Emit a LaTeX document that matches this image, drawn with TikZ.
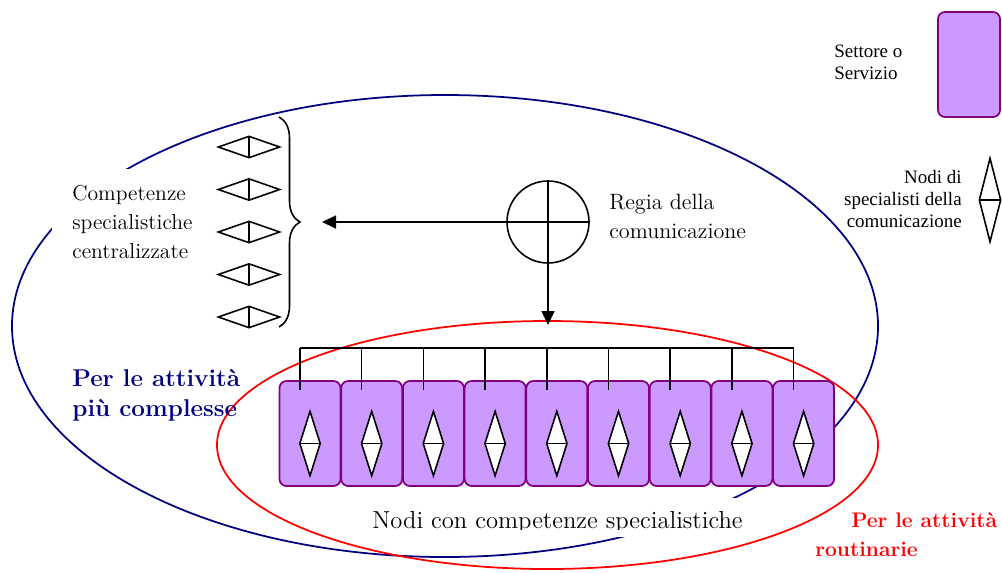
\documentclass[tikz,border=0pt]{standalone}
\usepackage{fontspec}
\newfontfamily\timesfont{Liberation Serif}
\usepackage{xcolor}
\usepackage{tikz}
\usetikzlibrary{arrows.meta}
\usetikzlibrary{shapes.geometric}
\usetikzlibrary{decorations.pathreplacing}
\definecolor{lilla}{HTML}{CC99FF}
\definecolor{viola}{HTML}{800080}
\definecolor{blu}{HTML}{000080}
\tikzset{
    freccia/.style={
        line width=0.9pt,
        -{Triangle[length=2.8mm, width=2.6mm]},
    },
    settore/.style={
        draw=viola,
        fill=lilla,
        line width=1pt,
        rounded corners=1.4mm,
        minimum width=12.2mm,
        minimum height=21mm,
        inner sep=0,
    },
    nodo spec/.style={
        draw,
        fill=white,
        diamond,
        line width=0.9pt,
        inner sep=0,
        minimum width=4.2mm,
        minimum height=13mm,
        path picture={
            \draw[line width=0.9pt] (path picture bounding box.west) -- (path picture bounding box.east);
        },
    },
    nodo centrale/.style={
        nodo spec,
        minimum width=12.4mm,
        minimum height=4.4mm,
        path picture={
            \draw[line width=0.9pt] (path picture bounding box.north) -- (path picture bounding box.south);
        },
    },
    testo/.style={
        align=left,
        inner sep=0,
        font=\fontsize{12.3}{16.5}\selectfont,
    },
    legenda/.style={
        inner sep=0,
        font=\timesfont\fontsize{10.8}{12.3}\selectfont,
    },
}

\begin{document}
\begin{tikzpicture}[x=0.2mm, y=-0.2mm]
    \useasboundingbox (0,0) rectangle (1002,572);

    % i due ambiti
    \draw[blu, line width=1pt] (445,326) ellipse [x radius=86.6mm, y radius=46.2mm];
    \draw[red, line width=1pt] (547.5,445) ellipse [x radius=66.1mm, y radius=24.8mm];

    \node[testo, fill=white, anchor=west, inner xsep=4mm, inner ysep=3.2mm] (competenze) at (52,222) {Competenze\\specialistiche\\centralizzate};

    % casella bianca, testo tagliato in basso
    \fill[white] (355,498) rectangle (765,537);
    \begin{scope}
        \clip (355,498) rectangle (765,529.5);
        \node[testo, anchor=base west, font=\fontsize{14}{16.5}\selectfont] (nodi) at (372,528.3) {Nodi con competenze specialistiche};
    \end{scope}

    % regia
    \node[draw, circle, line width=0.9pt, minimum size=16.4mm, inner sep=0] (regia) at (548,222) {};
    \coordinate (centr) at (322,222);
    \coordinate (barra) at (548,325);
    \draw[freccia] (regia.east) -- (centr);
    \draw[freccia] (regia.north) -- (barra);
    \node[testo, anchor=west, font=\fontsize{12.6}{16.5}\selectfont] (regia testo) at (609,216) {Regia della\\comunicazione};

    \draw[line width=0.9pt, decorate, decoration={brace, amplitude=4.2mm}] (279,117) -- (279,327);

    \foreach \i in {0,...,4}
    {
        \node[nodo centrale] (c\i) at (249,147+42.5*\i) {};
    }

    % settori
    \coordinate (bus) at (548,348);
    \foreach \i in {0,...,8}
    {
        \node[settore] (s\i) at (310+61.7*\i,433.5) {};
    }
    \draw[line width=0.9pt] ([xshift=-2mm]s0.north |- bus) -- ([xshift=-2mm]s8.north |- bus);
    \foreach \i in {0,...,8}
    {
        \draw[line width=0.9pt] ([xshift=-2mm]s\i.north |- bus) -- ([xshift=-2mm, yshift=-2mm]s\i.north);
        \node[nodo spec] (n\i) at ([yshift=-2mm]s\i.center) {};
    }

    \node[testo, blu, anchor=west, font=\bfseries\fontsize{13.8}{17}\selectfont] (complesse) at (72,395) {Per le attività\\più complesse};
    \node[testo, red, anchor=west, font=\bfseries\fontsize{12}{16.5}\selectfont] (routine) at (851,520) {Per le attività};
    \node[testo, red, anchor=west, font=\bfseries\fontsize{12}{16.5}\selectfont] (routine b) at (815,549) {routinarie};

    % legenda
    \node[settore, minimum width=12.4mm] (leg settore) at (969,64.5) {};
    \node[legenda, align=left, anchor=west] (leg settore testo) at (834,62) {Settore o\\Servizio};
    \node[nodo spec, minimum width=4.4mm, minimum height=16.8mm] (leg nodo) at (990,200) {};
    \node[legenda, align=right, anchor=east] (leg nodo testo) at (962,199) {Nodi di\\specialisti della\\comunicazione};

\end{tikzpicture}
\end{document}
